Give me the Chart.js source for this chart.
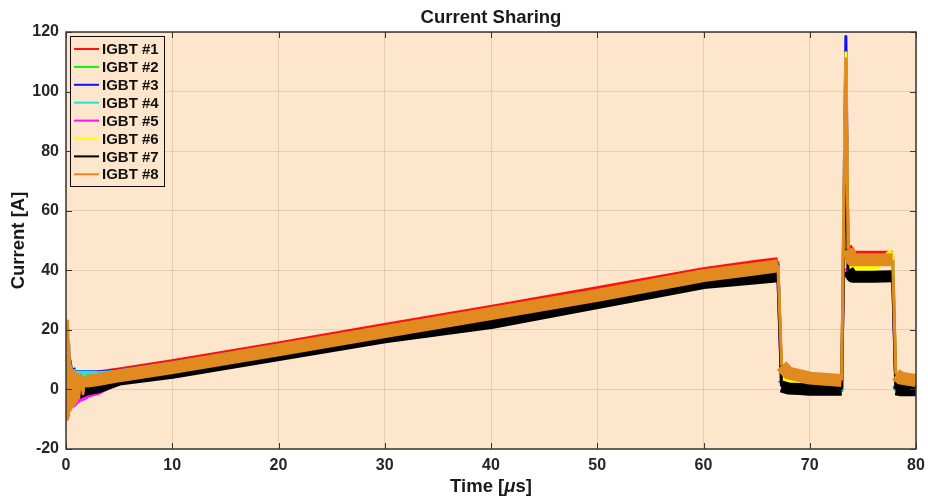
<!DOCTYPE html>
<html>
<head>
<meta charset="utf-8">
<title>Current Sharing</title>
<script src="https://cdn.jsdelivr.net/npm/chart.js@4.4.1/dist/chart.umd.min.js"></script>
<style>
  html, body { margin: 0; padding: 0; background: #fff; }
</style>
</head>
<body>
<canvas id="myChart" width="928" height="500"></canvas>
<script>
var ctx = document.getElementById('myChart');

// sample times [us]
var t = [0, 0.05, 0.1, 0.15, 0.2, 0.25, 0.3, 0.4, 0.5, 0.6, 0.7, 0.8, 0.9, 1.0, 1.1, 1.2, 1.4, 1.6, 1.8, 2,
         3, 5, 10, 20, 30, 40, 50, 60, 65, 67, 67.35, 68, 70, 73, 73.4, 73.6, 74, 76, 77.8, 78.1, 78.6, 80];

// module currents [A]
var igbt1 = [18, -6, 20, -8, 14, -5, 10, 8, 6, 5, 4.5, 4.3, 4.3, 4.3, 4.3, 4.3, 4.3, 4.4, 4.5, 4.5,
             5, 6, 8.8, 14.8, 21, 27, 33.3, 39.7, 42.2, 43, 5, 3, 1.5, 1, 108, 48, 45.2, 45.2, 45.2, 3, 2, 0.5];
var igbt2 = [19, -7, 21, -9, 15, -6, 11, 9, 6.5, 5.5, 5, 4.8, 4.8, 4.8, 4.8, 4.8, 4.8, 4.8, 4.8, 4.8,
             4.8, 5.4, 8, 14, 20, 26, 32.2, 38.8, 41, 42, 4, 1.5, 0, -0.5, 105, 46, 43.5, 43.5, 43.5, 2, 0, -0.5];
var igbt3 = [19, -7, 21, -9, 15, -6, 11, 9, 7, 6, 5.5, 5.2, 5.2, 5.2, 5.2, 5.2, 5.2, 5.2, 5.2, 5.2,
             5, 5.5, 8.1, 14, 20, 26, 32.2, 38.8, 41, 42, 3.5, 0, -0.8, -0.8, 118.5, 46, 43.5, 43.5, 43.5, 1.5, -0.8, -0.8];
var igbt4 = [18, -7, 20, -9, 14, -6, 10, 8, 6.5, 5.5, 5.2, 5, 5, 5, 5, 5, 5, 5, 5, 5,
             4.8, 5.3, 8, 13.8, 20, 26, 32, 38.5, 40.8, 41.8, 3, 0, -0.6, -0.6, 100, 45, 43, 43, 43, 1, -0.6, -0.6];
var igbt5 = [6, -6, 9, -9, 5, -7, 3, -2, -4.5, -4.8, -4.5, -4, -3.8, -3.5, -3.2, -3, -2.7, -2.4, -2, -1.5,
             -0.5, 3.3, 6, 12, 18, 23, 29.5, 36, 37.8, 38.5, 1, 0.5, 0.5, 0.5, 95, 41, 38, 38, 38, 1, 0.5, 0.5];
var igbt6 = [8, -5, 12, -8, 8, -6, 5, 3, 1, 0, 0, 0.3, 0.5, 0.8, 1, 1.2, 1.4, 1.6, 1.8, 2,
             2.5, 3.8, 6.8, 12.8, 18.9, 25, 31, 37.5, 39.8, 40.8, 4, 2, 1.5, 1.5, 113, 44, 40.8, 40.8, 46, 3, 1.5, 1.5];
var igbt7 = [4, -5, 8, -7, 5, -6, 3, 0, -2.5, -2.5, -2.3, -2, -1.8, -1.5, -1.3, -1.1, -0.8, -0.5, -0.2, 0,
             0.7, 3.3, 5.6, 11.5, 17.5, 22.3, 29, 35.7, 37.3, 38, 1, 0.3, 0, 0, 90, 40, 37.8, 37.8, 38, 0, -0.3, -0.3];
var igbt8 = [20, -8, 23, -10, 16, -9, 12, -7, 7, -6, 6, -5, 5.5, -4, 5, -3, 5, -1.5, 4.5, 2.8,
             3.3, 4.6, 7.3, 13.3, 19.4, 25.5, 31.6, 38.2, 40.5, 41.5, 8, 5.5, 3.8, 3, 111, 47, 43.5, 43.5, 43.5, 5, 3.8, 3];

var names = ['IGBT #1', 'IGBT #2', 'IGBT #3', 'IGBT #4', 'IGBT #5', 'IGBT #6', 'IGBT #7', 'IGBT #8'];
var series = [igbt1, igbt2, igbt3, igbt4, igbt5, igbt6, igbt7, igbt8];
var colors = ['#ff1010', '#10ee10', '#1010ff', '#20e8d8', '#ff10ff', '#ffff00', '#000000', '#e08a20'];
var widths = [8, 8, 8, 8, 8, 8, 12, 13];
var xTicks = [0, 10, 20, 30, 40, 50, 60, 70, 80];
var yTicks = [-20, 0, 20, 40, 60, 80, 100, 120];

var axesBg = '#fde6cb';
var font = '"Liberation Sans", Arial, sans-serif';

var datasets = series.map(function(vals, i) {
    return {
        label: names[i],
        data: t.map(function(x, k) { return {x: x, y: vals[k]}; }),
        borderColor: colors[i],
        borderWidth: widths[i],
        pointRadius: 0,
        tension: 0,
        borderJoinStyle: 'round',
        order: 8 - i,   // last module ends up on top
        segment: {
            // steep edges are thin, the noisy flat parts are wide
            borderWidth: function(s) {
                var dx = Math.abs(s.p1.x - s.p0.x), dy = Math.abs(s.p1.y - s.p0.y);
                return dy > 3 * dx ? 3 : undefined;
            }
        }
    };
});

var frame = {
    id: 'frame',
    beforeDraw: function(chart) {
        var c = chart.ctx, a = chart.chartArea;
        c.save();
        c.fillStyle = axesBg;
        c.fillRect(a.left, a.top, a.right - a.left, a.bottom - a.top);
        c.restore();
    },
    afterDraw: function(chart) {
        var c = chart.ctx, a = chart.chartArea;
        var xs = chart.scales.x, ys = chart.scales.y;
        c.save();

        // box and inward ticks
        c.strokeStyle = '#3a3430';
        c.lineWidth = 1;
        c.beginPath();
        xTicks.forEach(function(v) {
            var px = Math.round(xs.getPixelForValue(v)) + 0.5;
            c.moveTo(px, a.bottom); c.lineTo(px, a.bottom - 6);
            c.moveTo(px, a.top); c.lineTo(px, a.top + 6);
        });
        yTicks.forEach(function(v) {
            var py = Math.round(ys.getPixelForValue(v)) + 0.5;
            c.moveTo(a.left, py); c.lineTo(a.left + 6, py);
            c.moveTo(a.right, py); c.lineTo(a.right - 6, py);
        });
        c.stroke();
        c.lineWidth = 1.5;
        c.strokeRect(a.left, a.top, a.right - a.left, a.bottom - a.top);

        // title
        c.fillStyle = '#1a1a1a';
        c.font = 'bold 18.5px ' + font;
        c.textAlign = 'center';
        c.textBaseline = 'middle';
        c.fillText('Current Sharing', (a.left + a.right) / 2, 18);

        // x label with italic mu
        var parts = [['bold 18.5px ' + font, 'Time ['], ['italic bold 18.5px ' + font, '\u03bc'], ['bold 18.5px ' + font, 's]']];
        var total = 0;
        parts.forEach(function(p) { c.font = p[0]; total += c.measureText(p[1]).width; });
        var x0 = (a.left + a.right) / 2 - total / 2;
        c.textAlign = 'left';
        parts.forEach(function(p) { c.font = p[0]; c.fillText(p[1], x0, 487); x0 += c.measureText(p[1]).width; });

        // legend
        var lx = a.left + 4, ly = a.top + 4, lw = 94, lh = 150;
        c.fillStyle = axesBg;
        c.fillRect(lx, ly, lw, lh);
        c.strokeStyle = '#111';
        c.lineWidth = 1;
        c.strokeRect(lx + 0.5, ly + 0.5, lw, lh);
        c.font = 'bold 15px ' + font;
        names.forEach(function(n, i) {
            var y = ly + 13 + i * 17.9;
            c.strokeStyle = colors[i];
            c.lineWidth = 2;
            c.beginPath();
            c.moveTo(lx + 4, y); c.lineTo(lx + 29, y);
            c.stroke();
            c.fillStyle = '#111';
            c.fillText(n, lx + 32, y + 1);
        });
        c.restore();
    }
};

var myChart = new Chart(ctx, {
    type: 'line',
    data: { datasets: datasets },
    options: {
        responsive: false,
        animation: false,
        devicePixelRatio: 1,
        layout: { padding: { top: 32, right: 12, left: 0, bottom: 0 } },
        plugins: {
            legend: { display: false },
            title: { display: false },
            tooltip: { enabled: false }
        },
        scales: {
            x: {
                type: 'linear',
                min: 0, max: 80,
                afterFit: function(s) { s.height = 51; s.paddingLeft = 0; s.paddingRight = 0; },
                afterBuildTicks: function(s) { s.ticks = xTicks.map(function(v) { return {value: v}; }); },
                grid: { color: 'rgba(60,45,30,0.13)', drawTicks: false },
                border: { display: false },
                ticks: { color: '#262626', font: { family: font, size: 16, weight: 'bold' }, padding: 7, maxRotation: 0 }
            },
            y: {
                min: -20, max: 120,
                afterFit: function(s) { s.width = 66; s.paddingTop = 0; s.paddingBottom = 0; },
                afterBuildTicks: function(s) { s.ticks = yTicks.map(function(v) { return {value: v}; }); },
                grid: { color: 'rgba(60,45,30,0.13)', drawTicks: false },
                border: { display: false },
                ticks: { color: '#262626', font: { family: font, size: 16, weight: 'bold' }, padding: 7 },
                title: { display: true, text: 'Current [A]', color: '#1a1a1a', font: { family: font, size: 18.5, weight: 'bold' }, padding: { top: 8, bottom: 0 } }
            }
        }
    },
    plugins: [frame]
});
</script>
</body>
</html>
